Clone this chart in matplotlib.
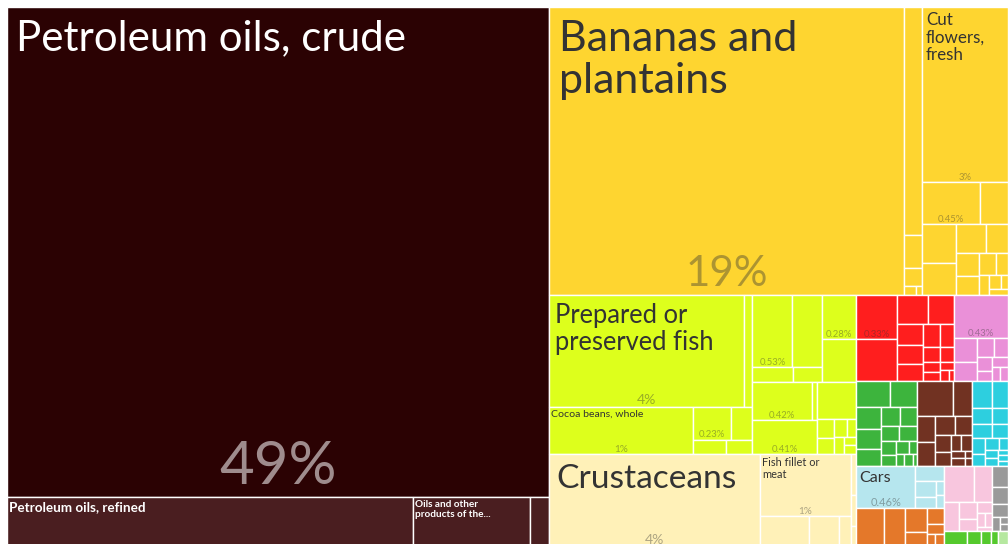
import matplotlib
matplotlib.use("Agg")
import matplotlib.pyplot as plt
from matplotlib.patches import Rectangle

plt.rcParams['font.family'] = ['Lato', 'DejaVu Sans']

# ---------------- data: share of total exports (%) ----------------
# Mineral products
crude_oil = ("Petroleum oils, crude", 49.13)
refined_oil = ("Petroleum oils, refined", 3.76)
other_oils = ("Oils and other\nproducts of the...", 1.08)
mineral_rest = [0.18]

# Vegetable products
bananas = ("Bananas and\nplantains", 18.91)
veg_strip = [0.76, 0.11, 0.06]
veg_strip_tail = [0.02, 0.01]
cut_flowers = ("Cut\nflowers,\nfresh", 2.78)
veg_rest = [("", 0.45), 0.22, 0.24, 0.20, 0.16, 0.12, 0.10, 0.08, 0.07,
            0.05, 0.04, 0.03, 0.02, 0.02]

# Foodstuffs
prepared_fish = ("Prepared or\npreserved fish", 4.04)
fish_strip = 0.17
cocoa = ("Cocoa beans, whole", 1.25)
food_a = [("", 0.23), 0.13]
food_b = [0.09, 0.07]
food_c = [("", 0.53), 0.39]
food_d = [0.11, 0.08]
food_e = [("", 0.28), 0.27]
food_f = [("", 0.42), 0.04]
food_g = ("", 0.41)
food_rest = [0.27, 0.06, 0.05, 0.04, 0.03, 0.03, 0.02, 0.02]

# Animal products
crustaceans = ("Crustaceans", 3.63)
fish_fillet = ("Fish fillet or\nmeat", 1.04)
animal_row = [0.28, 0.17, 0.07]
animal_strip = [0.04, 0.03, 0.02]

# Smaller sections
plastics = [("", 0.33), 0.32, 0.17, 0.14, 0.10, 0.09, 0.08, 0.07, 0.06, 0.05,
            0.04, 0.03, 0.03, 0.02, 0.02, 0.01]
chemicals = [("", 0.43), 0.10, 0.08, 0.06, 0.05, 0.04, 0.03, 0.03, 0.02, 0.02]
textiles = [0.16, 0.13, 0.10, 0.09, 0.08, 0.07, 0.06, 0.05, 0.05, 0.04, 0.03,
            0.03, 0.02, 0.02, 0.02, 0.01]
metals = [0.23, 0.12, 0.09, 0.08, 0.07, 0.06, 0.05, 0.04, 0.03, 0.03, 0.02,
          0.02, 0.01, 0.01]
machines = [0.10, 0.08, 0.06, 0.05, 0.05, 0.04, 0.04, 0.03, 0.03, 0.02, 0.02,
            0.02, 0.01, 0.01, 0.01]
transport = [("Cars", 0.46), 0.08, 0.06, 0.04, 0.02, 0.02]
wood = [0.20, 0.15, 0.10, 0.06, 0.05, 0.03, 0.02, 0.02]
paper = [0.20, 0.12, 0.08, 0.06, 0.04, 0.03, 0.02, 0.02, 0.01]
misc = [0.06, 0.05, 0.04, 0.02, 0.01, 0.01]
stone = [0.07, 0.04, 0.03, 0.02]
other = [0.03]

# ---------------- colours / styles ----------------
C_MIN, C_MIN2 = "#2b0203", "#4a1e20"
C_VEG, C_FOOD, C_ANI = "#fed530", "#ddff1c", "#fff1b8"
C_RED, C_PINK, C_GREEN = "#ff1e1e", "#ea90d8", "#3db43d"
C_BROWN, C_CYAN, C_LBLUE = "#713222", "#2dcfdf", "#b6e6ee"
C_ORANGE, C_LPINK, C_GRAY = "#e4782a", "#f8c6de", "#9a9a9a"
C_GREEN2, C_LGREEN = "#55c92d", "#b6e8a0"
DARK = {C_MIN, C_MIN2}

NAME_PX = {crude_oil[0]: 42, bananas[0]: 43, cut_flowers[0]: 17,
           prepared_fish[0]: 25.5, cocoa[0]: 10.5, crustaceans[0]: 33.5,
           fish_fillet[0]: 11, "Cars": 16, refined_oil[0]: 13.5,
           other_oils[0]: 10}
BOLD = {refined_oil[0], other_oils[0]}
PCT_PX = {crude_oil[0]: 60, bananas[0]: 42, cut_flowers[0]: 9.5,
          prepared_fish[0]: 14, cocoa[0]: 10, crustaceans[0]: 14,
          fish_fillet[0]: 10, "Cars": 11}
NO_PCT = {refined_oil[0], other_oils[0]}


# ---------------- layout helpers ----------------
def L(item, color):
    if isinstance(item, tuple):
        return ("leaf", item[0], item[1], color)
    return ("leaf", None, item, color)


def H(*ch):
    return ("h", list(ch))


def V(*ch):
    return ("v", list(ch))


def SQ(items, color):
    return ("sq", [L(i, color) for i in items])


def val(n):
    if n[0] == "leaf":
        return n[2]
    return sum(val(c) for c in n[1])


def squarify(vals, x, y, w, h):
    total = sum(vals)
    areas = [v * w * h / total for v in vals]
    out, i, n = [], 0, len(areas)
    while i < n:
        side = min(w, h)

        def worst(r):
            s = sum(r)
            return max(side * side * max(r) / (s * s), s * s / (side * side * min(r)))
        row, j = [areas[i]], i + 1
        while j < n and worst(row + [areas[j]]) <= worst(row):
            row.append(areas[j])
            j += 1
        s = sum(row)
        if w >= h:
            cw = s / h
            yy = y
            for a in row:
                rh = a / cw
                out.append((x, yy, x + cw, yy + rh))
                yy += rh
            x += cw
            w -= cw
        else:
            rh = s / w
            xx = x
            for a in row:
                rw = a / rh
                out.append((xx, y, xx + rw, y + rh))
                xx += rw
            y += rh
            h -= rh
        i = j
    return out


def place(n, x0, y0, x1, y1, out):
    kind = n[0]
    if kind == "leaf":
        out.append((x0, y0, x1, y1, n[1], n[2], n[3]))
    elif kind == "h":
        tot = val(n)
        x = x0
        for c in n[1]:
            w = (x1 - x0) * val(c) / tot
            place(c, x, y0, x + w, y1, out)
            x += w
    elif kind == "v":
        tot = val(n)
        y = y0
        for c in n[1]:
            h = (y1 - y0) * val(c) / tot
            place(c, x0, y, x1, y + h, out)
            y += h
    else:
        rects = squarify([c[2] for c in n[1]], x0, y0, x1 - x0, y1 - y0)
        for c, r in zip(n[1], rects):
            out.append((*r, c[1], c[2], c[3]))


tree = H(
    V(L(crude_oil, C_MIN),
      H(L(refined_oil, C_MIN2), L(other_oils, C_MIN2), SQ(mineral_rest, C_MIN2))),
    V(
        H(L(bananas, C_VEG),
          V(*[L(v, C_VEG) for v in veg_strip], SQ(veg_strip_tail, C_VEG)),
          V(L(cut_flowers, C_VEG), SQ(veg_rest, C_VEG))),
        H(
            V(
                H(
                    V(H(L(prepared_fish, C_FOOD), L(fish_strip, C_FOOD)),
                      H(L(cocoa, C_FOOD),
                        V(H(*[L(v, C_FOOD) for v in food_a]),
                          H(*[L(v, C_FOOD) for v in food_b])))),
                    V(H(V(H(*[L(v, C_FOOD) for v in food_c]),
                          H(*[L(v, C_FOOD) for v in food_d])),
                        V(*[L(v, C_FOOD) for v in food_e])),
                      H(V(H(*[L(v, C_FOOD) for v in food_f]), L(food_g, C_FOOD)),
                        SQ(food_rest, C_FOOD)))),
                H(L(crustaceans, C_ANI),
                  V(L(fish_fillet, C_ANI), H(*[L(v, C_ANI) for v in animal_row])),
                  V(*[L(v, C_ANI) for v in animal_strip]))),
            V(H(SQ(plastics, C_RED), SQ(chemicals, C_PINK)),
              H(SQ(textiles, C_GREEN), SQ(metals, C_BROWN), SQ(machines, C_CYAN)),
              H(V(SQ(transport, C_LBLUE), SQ(wood, C_ORANGE)),
                V(H(SQ(paper, C_LPINK), SQ(misc, C_GRAY)),
                  H(SQ(stone, C_GREEN2), SQ(other, C_LGREEN))))))))

# ---------------- drawing ----------------
FW, FH = 1008, 544
W, H_ = 1001, 540
fig = plt.figure(figsize=(FW / 100, FH / 100), dpi=100)
ax = fig.add_axes([7 / FW, (FH - 7 - H_) / FH, W / FW, H_ / FH])
ax.set_xlim(0, W)
ax.set_ylim(H_, 0)
ax.axis("off")

cells = []
place(tree, 0, 0, W, H_, cells)
PT = 0.72

for (x0, y0, x1, y1, name, v, color) in cells:
    ax.add_patch(Rectangle((x0, y0), x1 - x0, y1 - y0, facecolor=color,
                           edgecolor="white", linewidth=1.0))
for (x0, y0, x1, y1, name, v, color) in cells:
    if name is None:
        continue
    dark = color in DARK
    tc = "white" if dark else "#333333"
    if name:
        px = NAME_PX.get(name, 10)
        padx = 0.22 * px if px >= 15 else 2
        ax.text(x0 + padx, y0 + 0.3 * px, name, fontsize=px * PT,
                color=tc, ha="left", va="top", linespacing=1.12,
                fontweight="bold" if name in BOLD else "normal")
    if name not in NO_PCT:
        pp = PCT_PX.get(name, 9.5)
        s = f"{v:.0f}%" if v >= 1 else f"{v:.2f}%"
        ax.text((x0 + x1) / 2, y1 - 0.22 * pp, s, fontsize=pp * PT, color=tc,
                alpha=0.55 if dark else 0.4, ha="center", va="baseline")

fig.savefig("out.png", dpi=100, facecolor="white")
